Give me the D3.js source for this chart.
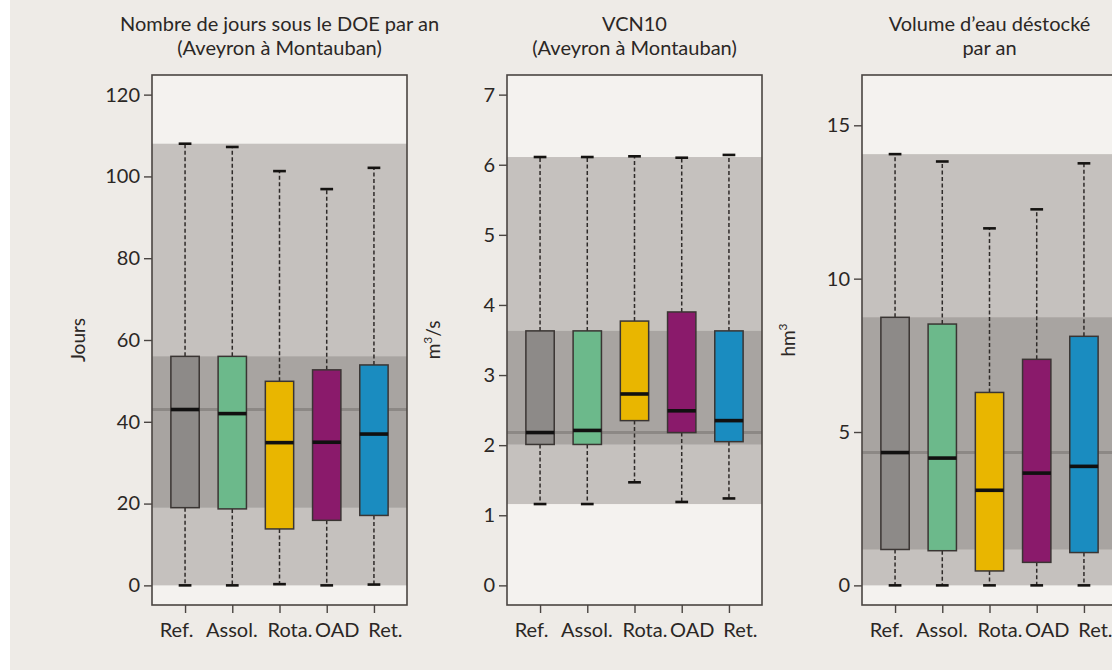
<!DOCTYPE html>
<html>
<head>
<meta charset="utf-8">
<script src="https://cdn.jsdelivr.net/npm/d3@7"></script>
<style>
  body { margin: 0; background: #ffffff; }
  text { font-family: Lato, "Open Sans", sans-serif; fill: #2b2725; }
</style>
</head>
<body>
<svg id="chart" width="1112" height="672"></svg>
<script>
// categories (x axis)
var categories = ["Ref.", "Assol.", "Rota.", "OAD", "Ret."];

// Nombre de jours sous le DOE par an
var joursMin = [0, 0, 0.3, 0, 0.2];
var joursQ1 = [19, 18.7, 13.8, 15.9, 17.1];
var joursMed = [43, 42, 34.9, 35, 37];
var joursQ3 = [56, 56, 49.9, 52.7, 53.9];
var joursMax = [108, 107.2, 101.3, 96.9, 102.1];
var joursTicks = [0, 20, 40, 60, 80, 100, 120];
var joursLim = [0, 120];

// VCN10
var vcnMin = [1.16, 1.16, 1.47, 1.19, 1.24];
var vcnQ1 = [2.01, 2.01, 2.35, 2.18, 2.05];
var vcnMed = [2.18, 2.21, 2.73, 2.49, 2.35];
var vcnQ3 = [3.63, 3.63, 3.77, 3.9, 3.63];
var vcnMax = [6.11, 6.11, 6.12, 6.1, 6.14];
var vcnTicks = [0, 1, 2, 3, 4, 5, 6, 7];
var vcnLim = [0, 7];

// Volume d'eau déstocké par an
var volMin = [0, 0, 0, 0, 0];
var volQ1 = [1.17, 1.13, 0.47, 0.75, 1.07];
var volMed = [4.33, 4.15, 3.1, 3.66, 3.88];
var volQ3 = [8.74, 8.52, 6.29, 7.37, 8.12];
var volMax = [14.06, 13.82, 11.64, 12.26, 13.76];
var volTicks = [0, 5, 10, 15];
var volLim = [0, 16];

var boxColors = ["#8d8a88", "#6cb98b", "#e9b600", "#8a1a6b", "#1a8cc0"];
// the x labels are set as one line of text in the original, not centred on ticks
var labelShift = [-9, -1, 10, 10, 11];

var svg = d3.select("#chart");

// page background (white strip on the left and bottom)
svg.append("rect").attr("x", 0).attr("y", 0).attr("width", 1112).attr("height", 672).attr("fill", "#ffffff");
svg.append("rect").attr("x", 10).attr("y", 0).attr("width", 1102).attr("height", 670).attr("fill", "#eeebe7");

var frameTop = 75, frameBottom = 605, frameWidth = 255;

function makePanel(left, titleLines, unit, unitSup, mins, q1s, meds, q3s, maxs, ticks, lim) {
  var g = svg.append("g");
  var pad = (lim[1] - lim[0]) * 0.04;
  var x = d3.scaleLinear([0.3, 5.7], [left, left + frameWidth]);
  var y = d3.scaleLinear([lim[0] - pad, lim[1] + pad], [frameBottom, frameTop]);

  // plot area
  g.append("rect")
    .attr("x", left).attr("y", frameTop)
    .attr("width", frameWidth).attr("height", frameBottom - frameTop)
    .attr("fill", "#f4f2ef");

  // reference bands from the "Ref." box
  g.append("rect")
    .attr("x", left).attr("y", y(maxs[0]))
    .attr("width", frameWidth).attr("height", y(mins[0]) - y(maxs[0]))
    .attr("fill", "#c5c1be");
  g.append("rect")
    .attr("x", left).attr("y", y(q3s[0]))
    .attr("width", frameWidth).attr("height", y(q1s[0]) - y(q3s[0]))
    .attr("fill", "#a8a4a1");
  g.append("line")
    .attr("x1", left).attr("x2", left + frameWidth)
    .attr("y1", y(meds[0])).attr("y2", y(meds[0]))
    .attr("stroke", "#8c8885").attr("stroke-width", 3);

  var idx = d3.range(categories.length);

  // whiskers
  g.selectAll(".wup").data(idx).enter().append("line")
    .attr("x1", function (i) { return x(i + 1); })
    .attr("x2", function (i) { return x(i + 1); })
    .attr("y1", function (i) { return y(q3s[i]); })
    .attr("y2", function (i) { return y(maxs[i]); })
    .attr("stroke", "#2f2b29").attr("stroke-width", 1.5)
    .attr("stroke-dasharray", "4,2.5");
  g.selectAll(".wdown").data(idx).enter().append("line")
    .attr("x1", function (i) { return x(i + 1); })
    .attr("x2", function (i) { return x(i + 1); })
    .attr("y1", function (i) { return y(q1s[i]); })
    .attr("y2", function (i) { return y(mins[i]); })
    .attr("stroke", "#2f2b29").attr("stroke-width", 1.5)
    .attr("stroke-dasharray", "4,2.5");

  // caps
  [maxs, mins].forEach(function (arr) {
    g.selectAll(null).data(idx).enter().append("line")
      .attr("x1", function (i) { return x(i + 1 - 0.135); })
      .attr("x2", function (i) { return x(i + 1 + 0.135); })
      .attr("y1", function (i) { return y(arr[i]); })
      .attr("y2", function (i) { return y(arr[i]); })
      .attr("stroke", "#151311").attr("stroke-width", 2.6);
  });

  // boxes
  g.selectAll(".box").data(idx).enter().append("rect")
    .attr("x", function (i) { return x(i + 1 - 0.3); })
    .attr("width", function (i) { return x(i + 1.3) - x(i + 0.7); })
    .attr("y", function (i) { return y(q3s[i]); })
    .attr("height", function (i) { return y(q1s[i]) - y(q3s[i]); })
    .attr("fill", function (i) { return boxColors[i]; })
    .attr("stroke", "#3a3533").attr("stroke-width", 1.5);

  // medians
  g.selectAll(".med").data(idx).enter().append("line")
    .attr("x1", function (i) { return x(i + 1 - 0.3); })
    .attr("x2", function (i) { return x(i + 1 + 0.3); })
    .attr("y1", function (i) { return y(meds[i]); })
    .attr("y2", function (i) { return y(meds[i]); })
    .attr("stroke", "#111010").attr("stroke-width", 3.6);

  // frame
  g.append("rect")
    .attr("x", left).attr("y", frameTop)
    .attr("width", frameWidth).attr("height", frameBottom - frameTop)
    .attr("fill", "none").attr("stroke", "#4a4542").attr("stroke-width", 1.6);

  // axes
  var yAxis = d3.axisLeft(y).tickValues(ticks).tickSize(8).tickPadding(4).tickFormat(d3.format("d"));
  var ya = g.append("g").attr("transform", "translate(" + left + ",0)").call(yAxis);
  var xAxis = d3.axisBottom(x).tickValues(d3.range(1, categories.length + 1))
    .tickSize(8).tickPadding(10).tickFormat(function (d) { return categories[d - 1]; });
  var xa = g.append("g").attr("transform", "translate(0," + frameBottom + ")").call(xAxis);
  [ya, xa].forEach(function (a) {
    a.select(".domain").remove();
    a.selectAll(".tick line").attr("stroke", "#4a4542").attr("stroke-width", 1.4);
    a.selectAll(".tick text").attr("font-size", 20).attr("font-family", "Lato, sans-serif").style("fill", "#2b2725");
  });
  xa.selectAll(".tick text").attr("dx", function (d) { return labelShift[d - 1]; });

  // titles
  var cx = left + frameWidth / 2;
  titleLines.forEach(function (t, k) {
    g.append("text")
      .attr("x", cx).attr("y", 31 + k * 24)
      .attr("text-anchor", "middle").attr("font-size", 20)
      .text(t);
  });

  // unit label
  var ut = g.append("text")
    .attr("transform", "translate(" + (left - 67) + "," + ((frameTop + frameBottom) / 2) + ") rotate(-90)")
    .attr("text-anchor", "middle").attr("font-size", 19);
  ut.append("tspan").text(unit);
  if (unitSup) {
    ut.append("tspan").attr("font-size", 12).attr("dy", -8).text(unitSup.sup);
    ut.append("tspan").attr("dy", 8).text(unitSup.rest);
  }
}

makePanel(152, ["Nombre de jours sous le DOE par an", "(Aveyron à Montauban)"], "Jours", null,
  joursMin, joursQ1, joursMed, joursQ3, joursMax, joursTicks, joursLim);
makePanel(507, ["VCN10", "(Aveyron à Montauban)"], "m", { sup: "3", rest: "/s" },
  vcnMin, vcnQ1, vcnMed, vcnQ3, vcnMax, vcnTicks, vcnLim);
makePanel(862, ["Volume d\u2019eau déstocké", "par an"], "hm", { sup: "3", rest: "" },
  volMin, volQ1, volMed, volQ3, volMax, volTicks, volLim);
</script>
</body>
</html>
